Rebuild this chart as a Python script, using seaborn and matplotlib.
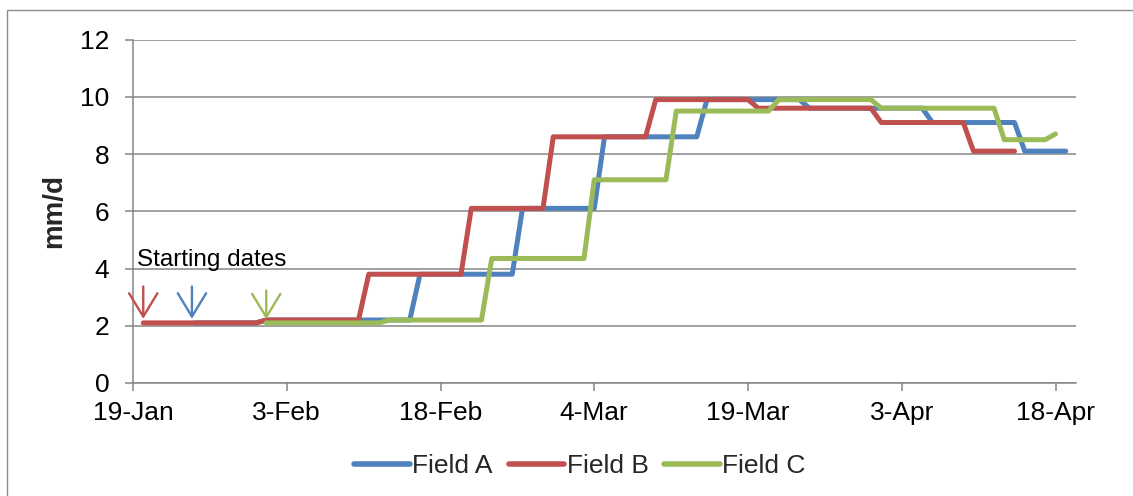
import matplotlib
matplotlib.use('Agg')
import matplotlib.pyplot as plt
import matplotlib.dates as mdates
from matplotlib.patches import Rectangle
import pandas as pd
import seaborn as sns

# ---------------- data ----------------
fields = ['Field A', 'Field B', 'Field C']
colors = ['#4F81BD', '#C0504D', '#9BBB59']

# first day at each new level, and the level (mm/d)
field_a_dates = ['2012-01-25', '2012-02-01', '2012-02-16', '2012-02-26', '2012-03-05',
                 '2012-03-15', '2012-03-25', '2012-04-06', '2012-04-15']
field_a_values = [2.1, 2.2, 3.8, 6.1, 8.6, 9.9, 9.6, 9.1, 8.1]
field_a_end = '2012-04-19'

field_b_dates = ['2012-01-20', '2012-02-01', '2012-02-11', '2012-02-21', '2012-02-29',
                 '2012-03-10', '2012-03-20', '2012-04-01', '2012-04-10']
field_b_values = [2.1, 2.2, 3.8, 6.1, 8.6, 9.9, 9.6, 9.1, 8.1]
field_b_end = '2012-04-14'

field_c_dates = ['2012-02-01', '2012-02-13', '2012-02-23', '2012-03-04', '2012-03-12',
                 '2012-03-22', '2012-04-01', '2012-04-13', '2012-04-18']
field_c_values = [2.1, 2.2, 4.35, 7.1, 9.5, 9.9, 9.6, 8.5, 8.7]
field_c_end = '2012-04-18'

# starting-date arrows (Field B, Field A, Field C)
arrow_dates = ['2012-01-20', '2012-01-24 18:00', '2012-02-01']
arrow_colors = ['#C0504D', '#4F81BD', '#9BBB59']
arrow_tops = [3.37, 3.37, 3.23]
arrow_tips = [2.24, 2.24, 2.22]

x_ticks = ['2012-01-19', '2012-02-03', '2012-02-18', '2012-03-04',
           '2012-03-19', '2012-04-03', '2012-04-18']
x_tick_labels = ['19-Jan', '3-Feb', '18-Feb', '4-Mar', '19-Mar', '3-Apr', '18-Apr']
y_ticks = [0, 2, 4, 6, 8, 10, 12]

# ---------------- build daily table (values held between changes) ----------------
frames = []
for name, dates, vals, end in [
        ('Field A', field_a_dates, field_a_values, field_a_end),
        ('Field B', field_b_dates, field_b_values, field_b_end),
        ('Field C', field_c_dates, field_c_values, field_c_end)]:
    days = pd.date_range(dates[0], end, freq='D')
    s = pd.Series(vals, index=pd.to_datetime(dates)).reindex(days, method='ffill')
    frames.append(pd.DataFrame({'date': days, 'value': s.values, 'field': name}))
df = pd.concat(frames, ignore_index=True)

# ---------------- style ----------------
sns.set_theme(style='white')
plt.rcParams['font.family'] = ['Liberation Sans', 'DejaVu Sans']
grey = '#868686'

fig = plt.figure(figsize=(11.33, 4.96), dpi=100)
ax = fig.add_axes([133 / 1133, 1 - 383 / 496, (1076 - 133) / 1133, (383 - 39.5) / 496])

sns.lineplot(data=df, x='date', y='value', hue='field', hue_order=fields,
             palette=colors, estimator=None, linewidth=3.6, ax=ax,
             solid_joinstyle='round', solid_capstyle='round')

ax.set_xlim(pd.Timestamp('2012-01-19'), pd.Timestamp('2012-04-20'))
ax.set_ylim(0, 12)
ax.set_yticks(y_ticks)
ax.set_xticks(pd.to_datetime(x_ticks))
ax.set_xticklabels(x_tick_labels)

ax.set_xlabel('')
ax.set_ylabel('mm/d', fontsize=20, fontweight='bold', labelpad=9)

ax.yaxis.grid(True, color=grey, linewidth=1.1)
ax.xaxis.grid(False)
ax.set_axisbelow(True)
for side in ['top', 'right']:
    ax.spines[side].set_visible(False)
for side in ['left', 'bottom']:
    ax.spines[side].set_color(grey)
    ax.spines[side].set_linewidth(1.1)
ax.tick_params(axis='both', length=6, width=1.1, color=grey, labelsize=19,
               labelcolor='black', direction='out')
ax.tick_params(axis='y', pad=11)
ax.tick_params(axis='x', pad=7)
ax.tick_params(axis='x', bottom=True)
ax.tick_params(axis='y', left=True)

# annotation text and arrows
ax.text(mdates.date2num(pd.Timestamp('2012-01-19')) + 0.4, 4.08, 'Starting dates',
        fontsize=17.5, va='baseline', ha='left', color='black')
for d, c, top, tip in zip(arrow_dates, arrow_colors, arrow_tops, arrow_tips):
    xd = mdates.date2num(pd.Timestamp(d))
    ax.annotate('', xy=(xd, tip), xytext=(xd, top),
                arrowprops=dict(arrowstyle='->,head_length=1.4,head_width=0.85',
                                color=c, lw=1.7, shrinkA=0, shrinkB=0))

# legend
sns.move_legend(ax, 'center', bbox_to_anchor=(0.474, -0.242), ncol=3, frameon=False,
                title=None, fontsize=19, handlelength=2.1, handletextpad=0.1,
                columnspacing=0.6)
for h in ax.get_legend().legend_handles:
    h.set_linewidth(4.0)
    h.set_solid_capstyle('round')

# chart border
fig.add_artist(Rectangle((7 / 1133, -0.1), 1.2, (1 - 10 / 496) + 0.1,
                         transform=fig.transFigure, fill=False,
                         edgecolor='#8c8c8c', linewidth=1.0))

fig.savefig('out.png', dpi=100)
